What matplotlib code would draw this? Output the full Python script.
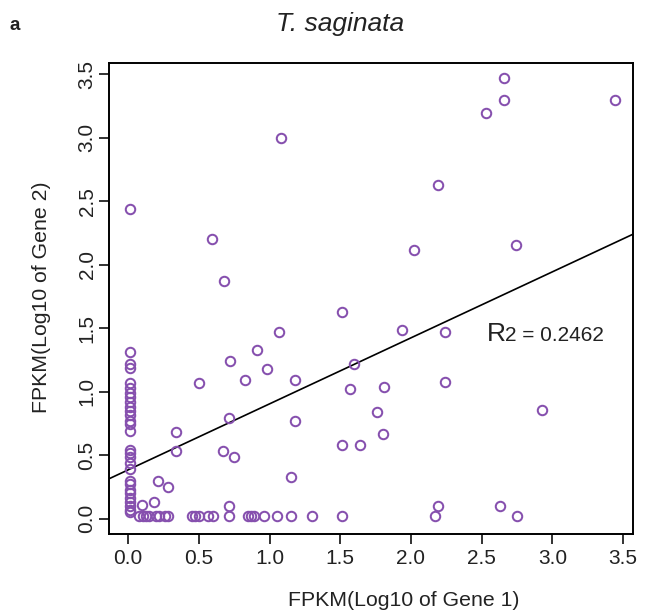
import matplotlib
matplotlib.use("Agg")
import matplotlib.pyplot as plt

plt.rcParams['font.family'] = ['Liberation Sans', 'DejaVu Sans']

# ---- data ----
# points on the x = 0 column
col0_x = [0.01] * 29
col0_y = [2.44, 1.31, 1.22, 1.19, 1.07, 1.03, 0.99, 0.96, 0.92, 0.88, 0.85, 0.82,
          0.77, 0.75, 0.69, 0.54, 0.52, 0.49, 0.44, 0.39, 0.30, 0.27, 0.23, 0.20,
          0.16, 0.13, 0.10, 0.07, 0.05]

# points on the bottom row (y ~ 0)
row0_x = [0.08, 0.105, 0.13, 0.15, 0.20, 0.22, 0.26, 0.28, 0.45, 0.47, 0.50,
          0.565, 0.60, 0.71, 0.85, 0.87, 0.89, 0.96, 1.05, 1.15, 1.30, 1.515,
          2.17, 2.75]
row0_y = [0.02] * len(row0_x)

# scattered points
pts_x = [2.66, 2.53, 2.66, 3.44, 1.08, 2.19, 0.59, 2.02, 2.74, 0.68,
         1.51, 1.07, 1.94, 2.24, 0.91, 0.72, 1.60, 0.98, 0.50, 0.83,
         1.18, 1.57, 1.81, 2.24, 1.76, 2.93, 0.71, 1.18, 0.34, 1.80,
         0.34, 0.67, 0.75, 1.51, 1.64, 1.15, 0.71, 2.19, 2.63,
         0.21, 0.28, 0.18, 0.10]
pts_y = [3.47, 3.20, 3.30, 3.30, 3.00, 2.63, 2.20, 2.12, 2.16, 1.87,
         1.63, 1.47, 1.49, 1.47, 1.33, 1.24, 1.22, 1.18, 1.07, 1.09,
         1.09, 1.02, 1.04, 1.08, 0.84, 0.86, 0.79, 0.77, 0.68, 0.67,
         0.53, 0.53, 0.49, 0.58, 0.58, 0.33, 0.10, 0.10, 0.10,
         0.30, 0.25, 0.13, 0.11]

fit_intercept = 0.385
fit_slope = 0.52
r2_text = "0.2462"

title = "T. saginata"
xlabel = "FPKM(Log10 of Gene 1)"
ylabel = "FPKM(Log10 of Gene 2)"
ticks = [0.0, 0.5, 1.0, 1.5, 2.0, 2.5, 3.0, 3.5]
tick_labels = ["0.0", "0.5", "1.0", "1.5", "2.0", "2.5", "3.0", "3.5"]

# ---- figure ----
W, H = 646, 615
fig = plt.figure(figsize=(W / 100, H / 100), dpi=100)
ax = fig.add_axes([109 / W, 1 - 534 / H, (633 - 109) / W, (534 - 63) / H])

purple = "#8650AE"
all_x = col0_x + row0_x + pts_x
all_y = col0_y + row0_y + pts_y
ax.plot(all_x, all_y, linestyle='none', marker='o', markersize=6.8,
        markerfacecolor='none', markeredgecolor=purple, markeredgewidth=1.45,
        zorder=3)

ax.axline((0, fit_intercept), slope=fit_slope, color='black', lw=1.2, zorder=2)

ax.set_xlim(-0.135, 3.57)
ax.set_ylim(-0.12, 3.59)

ax.set_xticks(ticks)
ax.set_xticklabels(tick_labels)
ax.set_yticks(ticks)
ax.set_yticklabels(tick_labels, rotation=90, va='center')

for sp in ax.spines.values():
    sp.set_linewidth(1.4)
ax.tick_params(direction='out', length=7, width=1.3, labelsize=15, pad=3.5,
               colors='#222222')
ax.tick_params(axis='y', pad=2)

# R2 annotation
ax.text(2.534, 1.40, "R", fontsize=19, va='baseline', ha='left', color='#222222')
ax.text(2.665, 1.40, "2 = " + r2_text, fontsize=15, va='baseline', ha='left',
        color='#222222')

fig.text(404 / W, 1 - 600 / H, xlabel, fontsize=15.3, ha='center', va='center',
         color='#222222')
fig.text(42 / W, 1 - 297 / H, ylabel, fontsize=15.3, ha='center', va='center',
         rotation=90, color='#222222')
fig.text(340 / W, 1 - 24 / H, title, fontsize=19, style='italic',
         ha='center', va='center', color='#222222')
fig.text(15 / W, 1 - 25 / H, "a", fontsize=13.5, fontweight='bold',
         ha='center', va='center', color='#222222')

fig.savefig("out.png", dpi=100)
